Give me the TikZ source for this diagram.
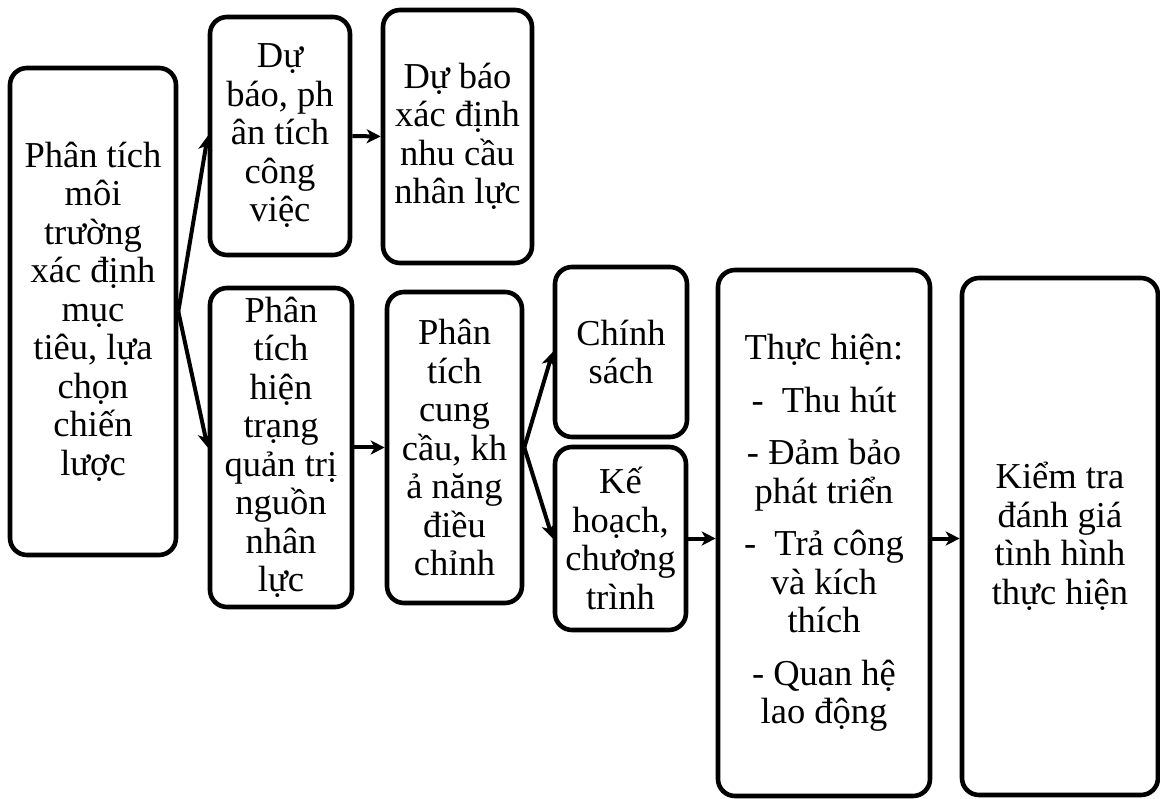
\documentclass[tikz,border=0pt]{standalone}
\usepackage{fontspec}
\setmainfont{Liberation Serif}
\usetikzlibrary{arrows.meta}
\tikzset{
  box/.style={draw=black, line width=4.6pt, rounded corners=17pt, fill=white,
    align=center, inner sep=0pt, font=\fontsize{36.5}{38.5}\selectfont},
  conn/.style={line width=4pt, -{Stealth[length=14pt,width=14pt,inset=4pt]}}
}
\begin{document}
\begin{tikzpicture}[x=1pt,y=-1pt]
\useasboundingbox (0,0) rectangle (1160,799);
\node[box, minimum width=166pt, minimum height=487pt] (A) at (93,311.5)
  {Phân tích\\môi\\trường\\xác định\\mục\\tiêu, lựa\\chọn\\chiến\\lược};
\node[box, minimum width=140pt, minimum height=238pt] (B) at (280,136)
  {Dự\\báo, ph\\ân tích\\công\\việc};
\node[box, minimum width=149pt, minimum height=253pt] (C) at (457.5,136.5)
  {Dự báo\\xác định\\nhu cầu\\nhân lực};
\node[box, minimum width=142pt, minimum height=319pt] (D) at (281,447.5)
  {Phân\\tích\\hiện\\trạng\\quản trị\\nguồn\\nhân\\lực};
\node[box, minimum width=135pt, minimum height=311pt] (E) at (454.5,447.5)
  {Phân\\tích\\cung\\cầu, kh\\ả năng\\điều\\chỉnh};
\node[box, minimum width=132pt, minimum height=170pt] (F) at (621,352)
  {Chính\\sách};
\node[box, minimum width=131pt, minimum height=183pt] (G) at (620.5,538.5)
  {Kế\\hoạch,\\chương\\trình};
\node[box, minimum width=212pt, minimum height=526pt] (H) at (824,533)
  {Thực hiện:\\[14pt]-\ \ Thu hút\\[14pt]- Đảm bảo\\phát triển\\[14pt]-\ \ Trả công\\và kích\\thích\\[14pt]- Quan hệ\\lao động};
\node[box, minimum width=196pt, minimum height=517pt] (I) at (1060,536.5)
  {Kiểm tra\\đánh giá\\tình hình\\thực hiện};
\draw[conn] (A.east) -- (B.west);
\draw[conn] (A.east) -- (D.west);
\draw[conn] (B.east) -- (C.west);
\draw[conn] (D.east) -- (E.west);
\draw[conn] (E.east) -- (F.west);
\draw[conn] (E.east) -- (G.west);
\draw[conn] (G.east) -- (G.east -| H.west);
\draw[conn] (H.east |- G.east) -- (G.east -| I.west);
\end{tikzpicture}
\end{document}
